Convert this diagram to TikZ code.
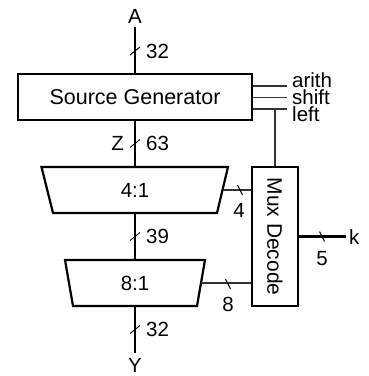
\documentclass[tikz,border=0pt]{standalone}
\usepackage{fontspec}
\setmainfont{Liberation Sans}
\usepackage{graphicx}
\usetikzlibrary{calc}
\begin{document}
\begin{tikzpicture}[x=1pt,y=-1pt,
  every node/.style={font=\fontsize{20.5}{24}\selectfont, inner sep=0pt},
  bigfont/.style={font=\fontsize{21.5}{25}\selectfont},
  thickline/.style={line width=2.2pt},
  thinline/.style={line width=1.2pt, draw=black!80},
  slash/.style={line width=0.9pt},
  boxnode/.style={draw, line width=2.2pt, rectangle, inner sep=0pt},
  trapline/.style={draw, line width=2.2pt, line join=miter}
]
\useasboundingbox (0,0) rectangle (369,376);

% nodes
\node (A) at (135,16) {A};
\node[boxnode, bigfont, minimum width=234pt, minimum height=46pt] (src) at (135,97) {Source Generator};
\node[boxnode, minimum width=46pt, minimum height=139pt] (dec) at (275,236.5) {\rotatebox{-90}{\fontsize{21}{25}\selectfont Mux Decode}};
\node (Y) at (135,365.5) {Y};
\node[anchor=west] (k) at (349,237) {k};

% 4:1 mux
\coordinate (m4tl) at (41.5,167);
\coordinate (m4tr) at (228,167);
\coordinate (m4br) at (217,213);
\coordinate (m4bl) at (53,213);
\draw[trapline] (m4tl) -- (m4tr) -- (m4br) -- (m4bl) -- cycle;
\node (m4) at (135,190) {4:1};
\coordinate (m4n) at (135,167);
\coordinate (m4s) at (135,213);
\coordinate (m4e) at ($(m4tr)!0.5!(m4br)$);

% 8:1 mux
\coordinate (m8tl) at (65,260);
\coordinate (m8tr) at (205,260);
\coordinate (m8br) at (197,306);
\coordinate (m8bl) at (73,306);
\draw[trapline] (m8tl) -- (m8tr) -- (m8br) -- (m8bl) -- cycle;
\node (m8) at (135,283) {8:1};
\coordinate (m8n) at (135,260);
\coordinate (m8s) at (135,306);
\coordinate (m8e) at ($(m8tr)!0.5!(m8br)$);

\coordinate (atop) at (135,27);
\coordinate (ybot) at (135,353);
\coordinate (kend) at (346,236.5);
\coordinate (ar) at (287,86);
\coordinate (sh) at (287,97.5);
\coordinate (lf) at (287,109);
\coordinate (lj) at (275,109);

% main data path
\draw[thickline] (atop) -- (src.north);
\draw[thickline] (src.south) -- (m4n);
\draw[thickline] (m4s) -- (m8n);
\draw[thickline] (m8s) -- (ybot);

% control outputs
\draw[thinline] (src.east |- ar) -- (ar);
\draw[thinline] (src.east |- sh) -- (sh);
\draw[thinline] (src.east |- lf) -- (lf);
\draw[thinline] (lj) -- (dec.north);
\node[anchor=base west] (tar) at (292,87) {arith};
\node[anchor=base west] (tsh) at (292,104) {shift};
\node[anchor=base west] (tlf) at (292,121) {left};

% select lines
\draw[thinline] (m4e) -- (m4e -| dec.west);
\draw[thinline] (m8e) -- (m8e -| dec.west);
\draw[thickline] (dec.east) -- (kend);

% bus slashes (vertical)
\draw[slash] (135,51) ++(-5,4) -- ++(10,-8);
\draw[slash] (135,143.5) ++(-5,4) -- ++(10,-8);
\draw[slash] (135,236.5) ++(-5,4) -- ++(10,-8);
\draw[slash] (135,329.5) ++(-5,4) -- ++(10,-8);
\node[anchor=west] (w32a) at (146,51) {32};
\node[anchor=east] (wz) at (124,143.5) {Z};
\node[anchor=west] (w63) at (146,143.5) {63};
\node[anchor=west] (w39) at (146,236.5) {39};
\node[anchor=west] (w32b) at (146,329.5) {32};

% bus slashes (horizontal)
\draw[slash] (240,190) ++(-2.5,-5) -- ++(5,10);
\draw[slash] (228,284) ++(-2.5,-5) -- ++(5,10);
\draw[slash] (322,236.5) ++(-2.5,-5) -- ++(5,10);
\node (w4) at (239,210) {4};
\node (w8) at (228,304) {8};
\node (w5) at (322,259) {5};
\end{tikzpicture}
\end{document}
